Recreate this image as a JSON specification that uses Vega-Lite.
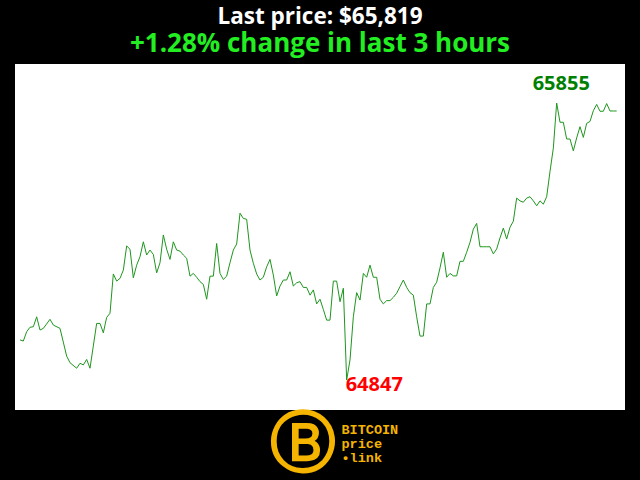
{
  "$schema": "https://vega.github.io/schema/vega-lite/v6.json",
  "width": 610,
  "height": 346,
  "autosize": {"type": "none"},
  "padding": {"left": 15, "top": 64, "right": 15, "bottom": 70},
  "background": "black",
  "config": {"view": {"fill": "white", "stroke": null}},
  "title": {
    "text": "Last price: $65,819",
    "subtitle": "+1.28% change in last 3 hours",
    "color": "white",
    "subtitleColor": "#22ee22",
    "font": "Open Sans",
    "subtitleFont": "Open Sans",
    "fontSize": 22.5,
    "subtitleFontSize": 26,
    "fontWeight": "bold",
    "subtitleFontWeight": "bold",
    "anchor": "middle",
    "offset": 7,
    "subtitlePadding": 3
  },
  "datasets": {
    "price": [
      {"t":0,"price":64993},{"t":1,"price":64989},{"t":2,"price":65023},{"t":3,"price":65039},{"t":4,"price":65041},
      {"t":5,"price":65077},{"t":6,"price":65029},{"t":7,"price":65035},{"t":9,"price":65068},{"t":10,"price":65047},
      {"t":12,"price":65035},{"t":14,"price":64934},{"t":15,"price":64910},{"t":17,"price":64890},{"t":18,"price":64908},
      {"t":19,"price":64902},{"t":20,"price":64922},{"t":21,"price":64890},{"t":23,"price":65053},{"t":24,"price":65053},
      {"t":25,"price":65019},{"t":26,"price":65075},{"t":27,"price":65090},{"t":28,"price":65233},{"t":29,"price":65207},
      {"t":30,"price":65217},{"t":31,"price":65247},{"t":32,"price":65335},{"t":33,"price":65323},{"t":34,"price":65219},
      {"t":35,"price":65265},{"t":36,"price":65296},{"t":37,"price":65350},{"t":38,"price":65302},{"t":39,"price":65320},
      {"t":40,"price":65304},{"t":41,"price":65237},{"t":42,"price":65274},{"t":43,"price":65375},{"t":44,"price":65323},
      {"t":45,"price":65286},{"t":46,"price":65350},{"t":47,"price":65320},{"t":48,"price":65316},{"t":49,"price":65302},
      {"t":50,"price":65290},{"t":51,"price":65225},{"t":52,"price":65235},{"t":53,"price":65221},{"t":54,"price":65205},
      {"t":55,"price":65195},{"t":56,"price":65141},{"t":57,"price":65225},{"t":58,"price":65225},{"t":59,"price":65344},
      {"t":60,"price":65235},{"t":61,"price":65213},{"t":62,"price":65225},{"t":63,"price":65274},{"t":64,"price":65320},
      {"t":65,"price":65342},{"t":66,"price":65454},{"t":67,"price":65435},{"t":68,"price":65432},{"t":69,"price":65320},
      {"t":70,"price":65272},{"t":71,"price":65233},{"t":72,"price":65211},{"t":73,"price":65221},{"t":74,"price":65259},
      {"t":75,"price":65286},{"t":76,"price":65229},{"t":77,"price":65153},{"t":78,"price":65189},{"t":79,"price":65211},
      {"t":80,"price":65211},{"t":81,"price":65241},{"t":82,"price":65189},{"t":83,"price":65201},{"t":84,"price":65205},
      {"t":85,"price":65184},{"t":86,"price":65184},{"t":87,"price":65156},{"t":88,"price":65175},{"t":89,"price":65124},
      {"t":90,"price":65141},{"t":91,"price":65104},{"t":92,"price":65065},{"t":93,"price":65065},{"t":94,"price":65207},
      {"t":95,"price":65207},{"t":96,"price":65132},{"t":97,"price":65181},{"t":98,"price":64847},{"t":99,"price":64920},
      {"t":100,"price":65077},{"t":101,"price":65165},{"t":102,"price":65138},{"t":103,"price":65235},{"t":104,"price":65221},
      {"t":105,"price":65265},{"t":106,"price":65221},{"t":107,"price":65221},{"t":108,"price":65141},{"t":109,"price":65124},
      {"t":110,"price":65136},{"t":111,"price":65136},{"t":112,"price":65148},{"t":113,"price":65163},{"t":114,"price":65187},
      {"t":115,"price":65211},{"t":116,"price":65184},{"t":117,"price":65165},{"t":118,"price":65156},{"t":119,"price":65077},
      {"t":120,"price":65007},{"t":121,"price":65007},{"t":122,"price":65124},{"t":123,"price":65124},{"t":124,"price":65184},
      {"t":125,"price":65203},{"t":126,"price":65255},{"t":127,"price":65312},{"t":128,"price":65221},{"t":129,"price":65235},
      {"t":130,"price":65226},{"t":131,"price":65226},{"t":132,"price":65279},{"t":133,"price":65279},{"t":134,"price":65312},
      {"t":135,"price":65348},{"t":136,"price":65396},{"t":137,"price":65417},{"t":138,"price":65332},{"t":139,"price":65332},
      {"t":140,"price":65332},{"t":141,"price":65332},{"t":142,"price":65306},{"t":143,"price":65324},{"t":144,"price":65364},
      {"t":145,"price":65400},{"t":146,"price":65360},{"t":147,"price":65403},{"t":148,"price":65425},{"t":149,"price":65509},
      {"t":150,"price":65499},{"t":151,"price":65494},{"t":152,"price":65509},{"t":153,"price":65514},{"t":154,"price":65499},
      {"t":155,"price":65481},{"t":156,"price":65499},{"t":157,"price":65487},{"t":158,"price":65514},{"t":159,"price":65606},
      {"t":160,"price":65691},{"t":161,"price":65855},{"t":162,"price":65785},{"t":163,"price":65785},{"t":164,"price":65724},
      {"t":165,"price":65724},{"t":166,"price":65681},{"t":167,"price":65728},{"t":168,"price":65769},{"t":169,"price":65730},
      {"t":170,"price":65781},{"t":171,"price":65788},{"t":172,"price":65827},{"t":173,"price":65850},{"t":174,"price":65825},
      {"t":175,"price":65825},{"t":176,"price":65853},{"t":177,"price":65826},{"t":178,"price":65826},{"t":179,"price":65826}
    ],
    "extremes": [
      {"t":161,"price":65855,"label":"65855","kind":"max"},
      {"t":98,"price":64847,"label":"64847","kind":"min"}
    ]
  },
  "encoding": {
    "x": {
      "field": "t",
      "type": "quantitative",
      "scale": {"domain": [-1.5, 181.5]},
      "axis": {
        "title": ["BITCOIN", "price", "\u2022link"],
        "labels": false,
        "ticks": false,
        "domain": false,
        "grid": false,
        "titleFont": "Liberation Mono",
        "titleFontSize": 13.5,
        "titleFontWeight": "bold",
        "titleColor": "#f4b400",
        "titleAlign": "left",
        "titleAnchor": "start",
        "titleX": 326,
        "titleY": 12,
        "titleBaseline": "top",
        "titleLineHeight": 14
      }
    },
    "y": {
      "field": "price",
      "type": "quantitative",
      "scale": {"domain": [64738, 65997]},
      "axis": {
        "title": "\u24b7",
        "labels": false,
        "ticks": false,
        "domain": false,
        "grid": false,
        "titleFont": "DejaVu Sans",
        "titleFontSize": 66,
        "titleFontWeight": "bold",
        "titleColor": "#f4b400",
        "titleAngle": 0,
        "titleAlign": "center",
        "titleBaseline": "middle",
        "titleX": 287,
        "titleY": 380
      }
    }
  },
  "layer": [
    {
      "data": {"name": "price"},
      "mark": {"type": "line", "color": "#1e961e", "strokeWidth": 1}
    },
    {
      "data": {"name": "extremes"},
      "transform": [{"filter": "datum.kind === 'max'"}],
      "mark": {"type": "text", "font": "Open Sans", "fontSize": 20, "fontWeight": "bold", "color": "#008000", "align": "left", "baseline": "alphabetic", "dx": -24, "dy": -13},
      "encoding": {"text": {"field": "label"}}
    },
    {
      "data": {"name": "extremes"},
      "transform": [{"filter": "datum.kind === 'min'"}],
      "mark": {"type": "text", "font": "Open Sans", "fontSize": 20, "fontWeight": "bold", "color": "#ff0000", "align": "left", "baseline": "alphabetic", "dx": -1, "dy": 11},
      "encoding": {"text": {"field": "label"}}
    }
  ]
}
